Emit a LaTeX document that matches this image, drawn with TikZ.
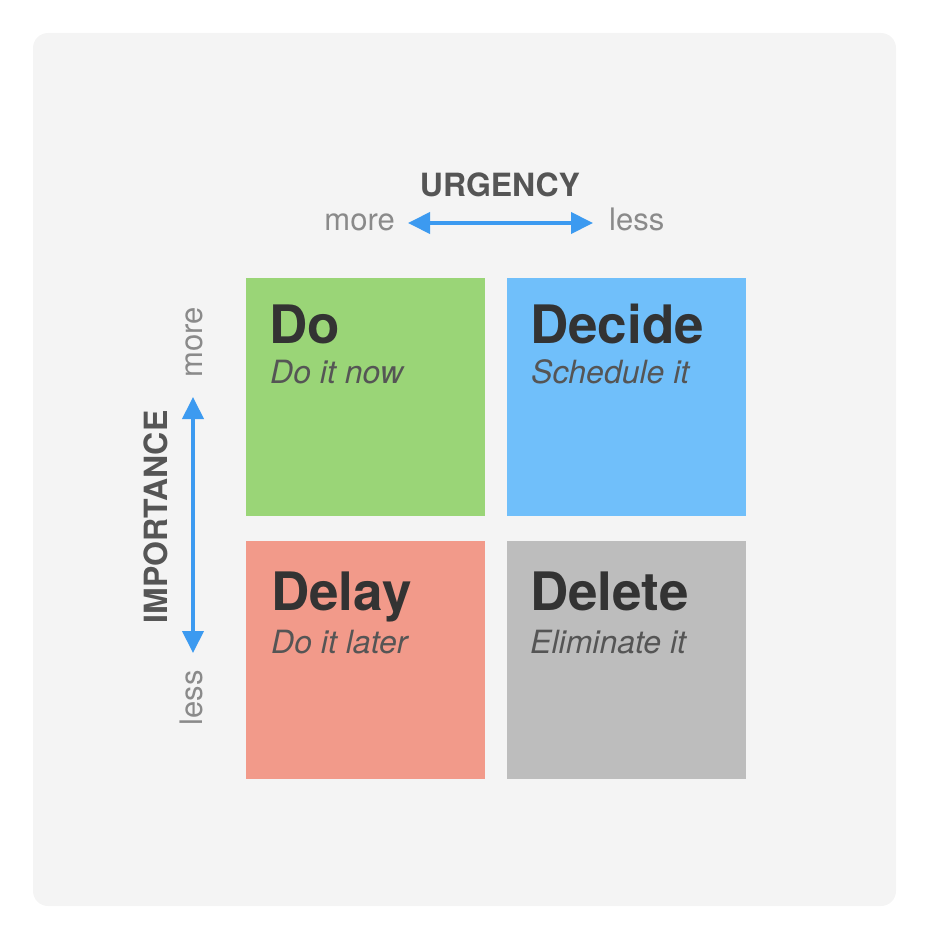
\documentclass[tikz,border=0pt]{standalone}
\usepackage{fontspec}
\setmainfont{TeX Gyre Heros}
\usetikzlibrary{arrows.meta}
\definecolor{panelgray}{HTML}{F4F4F4}
\definecolor{dogreen}{HTML}{9AD577}
\definecolor{decideblue}{HTML}{70BFFA}
\definecolor{delayred}{HTML}{F29A8A}
\definecolor{deletegray}{HTML}{BDBDBD}
\definecolor{titlegray}{HTML}{333333}
\definecolor{subgray}{HTML}{555555}
\definecolor{axisgray}{HTML}{555555}
\definecolor{endgray}{HTML}{8A8A8A}
\definecolor{arrowblue}{HTML}{3C9AF0}

\begin{document}
\begin{tikzpicture}[x=1pt,y=-1pt,
  quad/.style={minimum width=239pt,minimum height=238pt,inner sep=0pt},
  title/.style={anchor=base west,inner sep=0pt,text=titlegray,font=\bfseries\fontsize{53}{53}\selectfont},
  sub/.style={anchor=base west,inner sep=0pt,text=subgray,font=\itshape\fontsize{32}{32}\selectfont},
  axislbl/.style={inner sep=0pt,text=axisgray,font=\bfseries\fontsize{32}{32}\selectfont},
  endlbl/.style={inner sep=0pt,text=endgray,font=\fontsize{31}{31}\selectfont},
  axisarrow/.style={arrowblue,line width=4pt,{Triangle[length=22pt,width=21pt]}-{Triangle[length=22pt,width=21pt]}}]
\useasboundingbox (0,0) rectangle (928,942);
\fill[panelgray,rounded corners=15pt] (33,33) rectangle (896,906);

% the four boxes
\node[quad,fill=dogreen] (do) at (365.5,397) {};
\node[quad,fill=decideblue] (decide) at (626.5,397) {};
\node[quad,fill=delayred] (delay) at (365.5,660) {};
\node[quad,fill=deletegray] (delete) at (626.5,660) {};

\node[title] (dotitle) at (269,343) {Do};
\node[sub] (dosub) at (270,383) {Do it now};
\node[title] (decidetitle) at (530,343) {Decide};
\node[sub] (decidesub) at (531,383) {Schedule it};
\node[title] (delaytitle) at (271,610) {Delay};
\node[sub] (delaysub) at (271,653) {Do it later};
\node[title] (deletetitle) at (530,610) {Delete};
\node[sub] (deletesub) at (530,653) {Eliminate it};

% urgency
\node[axislbl,anchor=base] (urgency) at (500,196) {URGENCY};
\node[endlbl,anchor=base east] (umore) at (395,230) {more};
\node[endlbl,anchor=base west] (uless) at (609,230) {less};
\draw[axisarrow,shorten <=13pt,shorten >=16pt] ([yshift=7pt]umore.base east) -- ([yshift=7pt]uless.base west);

% importance
\node[axislbl,rotate=90,anchor=base] (importance) at (167,517) {IMPORTANCE};
\node[endlbl,rotate=90,anchor=base west] (vmore) at (202,378) {more};
\node[endlbl,rotate=90,anchor=base east] (vless) at (202,670) {less};
\draw[axisarrow,shorten <=19pt,shorten >=17pt] ([xshift=-9pt]vmore.base west) -- ([xshift=-9pt]vless.base east);
\end{tikzpicture}
\end{document}
